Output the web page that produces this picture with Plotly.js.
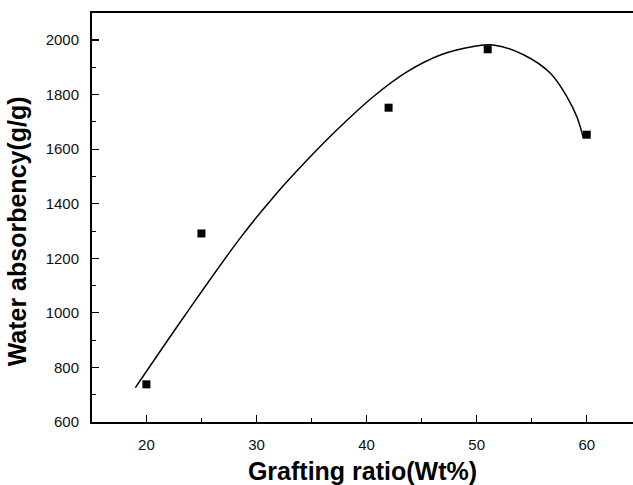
<!DOCTYPE html>
<html>
<head>
<meta charset="utf-8">
<script src="https://cdn.plot.ly/plotly-3.0.1.min.js"></script>
<style>html,body{margin:0;padding:0;background:#fff;}#chart{width:633px;height:485px;}</style>
</head>
<body>
<div id="chart"></div>
<script>
// Measured data points
const graftingRatio = [20, 25, 42, 51, 60];
const waterAbsorbency = [738, 1291, 1752, 1966, 1653];

// Fitted curve
const fitX = [19.0, 23.4, 28.5, 31.55, 34.6, 37.6, 40.6, 43.7, 46.7, 49.7, 51.5, 54.3, 56.7, 58.2, 59.1, 59.7];
const fitY = [726, 985, 1273, 1425, 1560, 1682, 1792, 1884, 1945, 1976, 1982, 1945, 1878, 1792, 1719, 1640];

const xTicks = [20, 30, 40, 50, 60];
const yTicks = [600, 800, 1000, 1200, 1400, 1600, 1800, 2000];

const traces = [
  {
    x: fitX, y: fitY, type: 'scatter', mode: 'lines',
    line: {color: '#000', width: 1.5, shape: 'spline', smoothing: 1, simplify: false},
    hoverinfo: 'skip', showlegend: false
  },
  {
    x: graftingRatio, y: waterAbsorbency, type: 'scatter', mode: 'markers',
    marker: {symbol: 'square', size: 8, color: '#000'},
    showlegend: false
  }
];

const tickFont = {family: 'Liberation Sans, Arial, sans-serif', size: 15, color: '#111'};
const titleFont = {family: 'Liberation Sans, Arial, sans-serif', size: 25, color: '#000', weight: 'bold'};

const layout = {
  width: 633, height: 485,
  margin: {l: 92, r: 0, t: 13, b: 63, pad: 0},
  paper_bgcolor: '#fff', plot_bgcolor: '#fff',
  showlegend: false,
  xaxis: {
    range: [15.06, 64.2],
    tickmode: 'array', tickvals: xTicks, ticktext: xTicks.map(String),
    ticks: 'inside', ticklen: 7, tickwidth: 1.2, tickcolor: '#000',
    minor: {dtick: 5, tick0: 0, ticks: 'inside', ticklen: 4, tickwidth: 1, tickcolor: '#000', showgrid: false},
    showline: true, linecolor: '#000', linewidth: 2, mirror: true,
    showgrid: false, zeroline: false,
    tickfont: tickFont, ticklabelstandoff: 8,
    title: {text: '<b>Grafting ratio(Wt%)</b>', font: titleFont, standoff: 12}
  },
  yaxis: {
    range: [600, 2099],
    tickmode: 'array', tickvals: yTicks, ticktext: yTicks.map(String),
    ticks: 'inside', ticklen: 7, tickwidth: 1.2, tickcolor: '#000',
    minor: {dtick: 100, tick0: 0, ticks: 'inside', ticklen: 4, tickwidth: 1, tickcolor: '#000', showgrid: false},
    showline: true, linecolor: '#000', linewidth: 2,
    showgrid: false, zeroline: false,
    tickfont: tickFont, ticklabelstandoff: 8,
    title: {text: '<b>Water absorbency(g/g)\u00A0\u00A0\u00A0\u00A0</b>', font: titleFont, standoff: 12}
  }
};

Plotly.newPlot('chart', traces, layout, {displayModeBar: false, staticPlot: true});
</script>
</body>
</html>
